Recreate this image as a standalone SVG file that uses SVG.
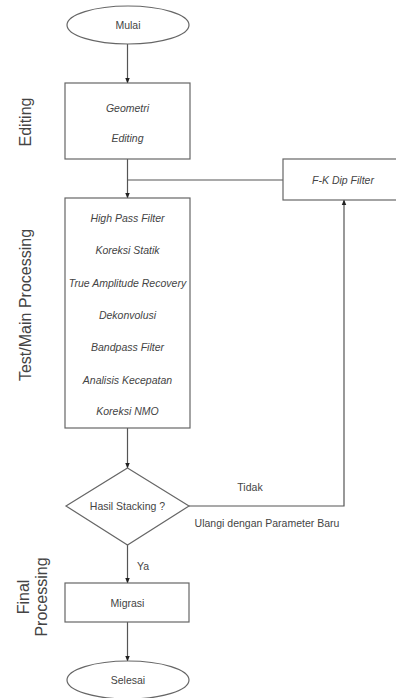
<svg xmlns="http://www.w3.org/2000/svg" width="396" height="698" viewBox="0 0 396 698">
<style>
.shape{fill:#fff;stroke:#666;stroke-width:1.2}
.conn{fill:none;stroke:#555;stroke-width:1.2}
.t{font-family:"Liberation Sans",Arial,sans-serif;font-size:10.5px;fill:#444;text-anchor:middle;dominant-baseline:central}
.i{font-style:italic}
.side{font-family:"Liberation Sans",Arial,sans-serif;font-size:16px;fill:#444;text-anchor:middle}
</style>
<defs>
<marker id="arr" viewBox="0 0 10 10" refX="9" refY="5" markerWidth="5" markerHeight="5" orient="auto">
<path d="M0,1 L10,5 L0,9 z" fill="#222"/>
</marker>
</defs>
<rect width="396" height="698" fill="#fff"/>
<g id="connectors">
<line class="conn" x1="127.5" y1="44" x2="127.5" y2="83" marker-end="url(#arr)"/>
<polyline class="conn" points="127.5,159 127.5,198" marker-end="url(#arr)"/>
<line class="conn" x1="127.5" y1="180" x2="283" y2="180"/>
<line class="conn" x1="127.5" y1="428" x2="127.5" y2="468" marker-end="url(#arr)"/>
<polyline class="conn" points="189,506 344,506 344,200" marker-end="url(#arr)"/>
<line class="conn" x1="127.5" y1="545" x2="127.5" y2="583" marker-end="url(#arr)"/>
<line class="conn" x1="127.5" y1="622" x2="127.5" y2="661" marker-end="url(#arr)"/>
</g>
<g id="mulai">
<ellipse class="shape" cx="128" cy="25" rx="61" ry="19"/>
<text class="t" x="128" y="25">Mulai</text>
</g>
<g id="editing-box">
<rect class="shape" x="65" y="83" width="125" height="76"/>
<text class="t i" x="127.5" y="108">Geometri</text>
<text class="t i" x="127.5" y="138">Editing</text>
</g>
<g id="main-box">
<rect class="shape" x="65" y="198" width="125" height="230"/>
<text class="t i" x="127.5" y="218">High Pass Filter</text>
<text class="t i" x="127.5" y="250">Koreksi Statik</text>
<text class="t i" x="127.5" y="283">True Amplitude Recovery</text>
<text class="t i" x="127.5" y="315">Dekonvolusi</text>
<text class="t i" x="127.5" y="347">Bandpass Filter</text>
<text class="t i" x="127.5" y="380">Analisis Kecepatan</text>
<text class="t i" x="127.5" y="411">Koreksi NMO</text>
</g>
<g id="fk-box">
<rect class="shape" x="283" y="159" width="120" height="41"/>
<text class="t i" x="343" y="180">F-K Dip Filter</text>
</g>
<g id="decision">
<polygon class="shape" points="127.5,468 189,506 127.5,545 66,506"/>
<text class="t" x="127.5" y="506">Hasil Stacking ?</text>
</g>
<g id="labels">
<text class="t" x="250" y="487">Tidak</text>
<text class="t" x="267" y="523">Ulangi dengan Parameter Baru</text>
<text class="t" x="143" y="566">Ya</text>
</g>
<g id="migrasi">
<rect class="shape" x="65" y="583" width="124" height="39"/>
<text class="t" x="127.5" y="603">Migrasi</text>
</g>
<g id="selesai">
<ellipse class="shape" cx="128" cy="680" rx="61" ry="19"/>
<text class="t" x="128" y="680">Selesai</text>
</g>
<g id="side-labels">
<text class="side" transform="translate(31,122) rotate(-90)">Editing</text>
<text class="side" transform="translate(31,305) rotate(-90)">Test/Main Processing</text>
<text class="side" transform="translate(29,597) rotate(-90)">Final</text>
<text class="side" transform="translate(47,597) rotate(-90)">Processing</text>
</g>
</svg>
